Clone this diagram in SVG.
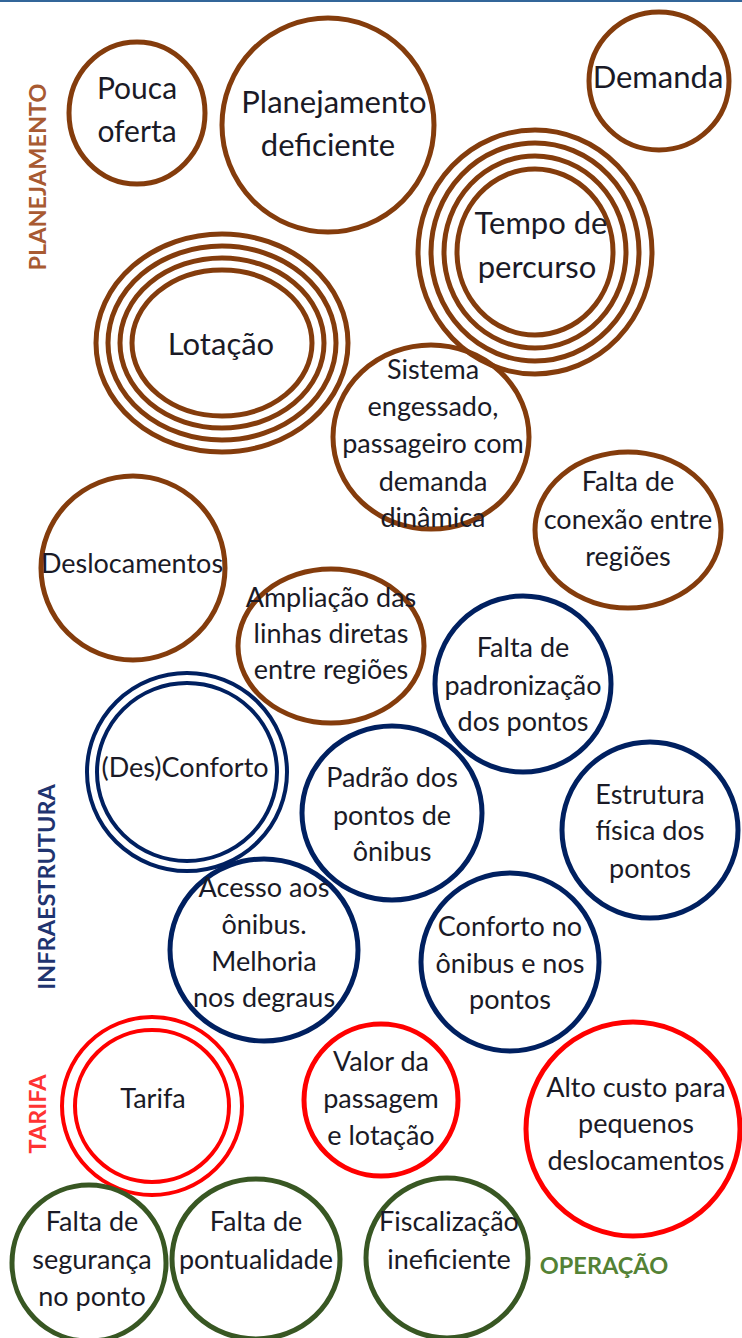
<svg xmlns="http://www.w3.org/2000/svg" width="742" height="1338" viewBox="0 0 742 1338">
<style>
  .b { fill: none; stroke: #843C0C; stroke-width: 5; }
  .n { fill: none; stroke: #002060; stroke-width: 5; }
  .r { fill: none; stroke: #FF0000; stroke-width: 5; }
  .g { fill: none; stroke: #385723; stroke-width: 5; }
  .n4 { fill: none; stroke: #002060; stroke-width: 4; }
  .r4 { fill: none; stroke: #FF0000; stroke-width: 4; }
  text { font-family: Lato, "Liberation Sans", sans-serif; fill: #1a1a26; text-anchor: middle; }
  .t31 { font-size: 31px; }
  .t30 { font-size: 30px; }
  .t27 { font-size: 27px; }
  .lab { font-weight: bold; font-size: 23.5px; }
</style>
<rect x="0" y="0" width="742" height="1338" fill="#ffffff"/>
<rect x="0" y="0" width="742" height="2" fill="#336699"/>

<g id="label-planejamento"><text class="lab" transform="translate(46,177) rotate(-90)" style="fill:#A85A32">PLANEJAMENTO</text></g>
<g id="label-infraestrutura"><text class="lab" transform="translate(55,887) rotate(-90)" style="fill:#1F3470">INFRAESTRUTURA</text></g>
<g id="label-tarifa"><text class="lab" transform="translate(46,1114) rotate(-90)" style="fill:#FF3333">TARIFA</text></g>
<g id="label-operacao"><text class="lab" x="604" y="1274" style="fill:#548235">OPERAÇÃO</text></g>

<g id="pouca-oferta">
  <ellipse class="b" cx="137" cy="113" rx="68" ry="71"/>
  <text class="t30" x="137" y="99">Pouca</text>
  <text class="t30" x="137" y="142">oferta</text>
</g>
<g id="planejamento-deficiente">
  <ellipse class="b" cx="328" cy="125" rx="106" ry="107"/>
  <text class="t31" x="334" y="113">Planejamento</text>
  <text class="t31" x="328" y="156">deficiente</text>
</g>
<g id="demanda">
  <ellipse class="b" cx="659" cy="81" rx="70" ry="69"/>
  <text class="t31" x="658" y="88">Demanda</text>
</g>
<g id="tempo-de-percurso">
  <ellipse class="b" cx="535" cy="252" rx="117" ry="122"/>
  <ellipse class="b" cx="535" cy="252" rx="104" ry="109"/>
  <ellipse class="b" cx="535" cy="252" rx="91" ry="96"/>
  <ellipse class="b" cx="535" cy="252" rx="78" ry="83"/>
  <text class="t31" x="541" y="234">Tempo de</text>
  <text class="t31" x="537" y="278">percurso</text>
</g>
<g id="lotacao">
  <ellipse class="b" cx="222" cy="343" rx="126" ry="109"/>
  <ellipse class="b" cx="222" cy="343" rx="114" ry="97"/>
  <ellipse class="b" cx="222" cy="343" rx="102" ry="85"/>
  <ellipse class="b" cx="222" cy="343" rx="90" ry="73"/>
  <text class="t31" x="221" y="355">Lotação</text>
</g>
<g id="sistema-engessado">
  <ellipse class="b" cx="431" cy="437" rx="98" ry="92"/>
  <text class="t27" x="433" y="379">Sistema</text>
  <text class="t27" x="433" y="416">engessado,</text>
  <text class="t27" x="433" y="453">passageiro com</text>
  <text class="t27" x="433" y="491">demanda</text>
  <text class="t27" x="433" y="527">dinâmica</text>
</g>
<g id="falta-de-conexao">
  <ellipse class="b" cx="628" cy="530" rx="93" ry="78"/>
  <text class="t27" x="628" y="491">Falta de</text>
  <text class="t27" x="628" y="529">conexão entre</text>
  <text class="t27" x="628" y="566">regiões</text>
</g>
<g id="deslocamentos">
  <ellipse class="b" cx="133" cy="568" rx="92" ry="92"/>
  <text class="t27" x="132" y="573">Deslocamentos</text>
</g>
<g id="ampliacao-das-linhas">
  <ellipse class="b" cx="331" cy="646" rx="93" ry="77"/>
  <text class="t27" x="331" y="607">Ampliação das</text>
  <text class="t27" x="331" y="643">linhas diretas</text>
  <text class="t27" x="331" y="679">entre regiões</text>
</g>
<g id="falta-de-padronizacao">
  <ellipse class="n" cx="523" cy="684" rx="88" ry="88"/>
  <text class="t27" x="523" y="657">Falta de</text>
  <text class="t27" x="523" y="695">padronização</text>
  <text class="t27" x="523" y="731">dos pontos</text>
</g>
<g id="des-conforto">
  <ellipse class="n4" cx="187" cy="772" rx="100" ry="99"/>
  <ellipse class="n4" cx="187" cy="772" rx="90" ry="89"/>
  <text class="t27" x="185" y="777">(Des)Conforto</text>
</g>
<g id="padrao-dos-pontos">
  <ellipse class="n" cx="392" cy="813" rx="90" ry="87"/>
  <text class="t27" x="392" y="787">Padrão dos</text>
  <text class="t27" x="392" y="825">pontos de</text>
  <text class="t27" x="392" y="861">ônibus</text>
</g>
<g id="estrutura-fisica">
  <ellipse class="n" cx="650" cy="830" rx="88" ry="88"/>
  <text class="t27" x="650" y="804">Estrutura</text>
  <text class="t27" x="650" y="840">física dos</text>
  <text class="t27" x="650" y="878">pontos</text>
</g>
<g id="acesso-aos-onibus">
  <ellipse class="n" cx="264" cy="950" rx="94" ry="91"/>
  <text class="t27" x="264" y="897">Acesso aos</text>
  <text class="t27" x="264" y="934">ônibus.</text>
  <text class="t27" x="264" y="971">Melhoria</text>
  <text class="t27" x="264" y="1007">nos degraus</text>
</g>
<g id="conforto-no-onibus">
  <ellipse class="n" cx="510" cy="962" rx="89" ry="89"/>
  <text class="t27" x="510" y="936">Conforto no</text>
  <text class="t27" x="510" y="973">ônibus e nos</text>
  <text class="t27" x="510" y="1009">pontos</text>
</g>
<g id="tarifa">
  <ellipse class="r4" cx="152" cy="1106" rx="90" ry="89"/>
  <ellipse class="r4" cx="152" cy="1106" rx="77" ry="76"/>
  <text class="t27" x="153" y="1108">Tarifa</text>
</g>
<g id="valor-da-passagem">
  <ellipse class="r" cx="381" cy="1100" rx="77" ry="76"/>
  <text class="t27" x="381" y="1071">Valor da</text>
  <text class="t27" x="381" y="1108">passagem</text>
  <text class="t27" x="381" y="1145">e lotação</text>
</g>
<g id="alto-custo">
  <ellipse class="r" cx="633" cy="1129" rx="107" ry="107"/>
  <text class="t27" x="636" y="1097">Alto custo para</text>
  <text class="t27" x="636" y="1133">pequenos</text>
  <text class="t27" x="636" y="1170">deslocamentos</text>
</g>
<g id="falta-de-seguranca">
  <ellipse class="g" cx="89" cy="1263" rx="77" ry="78"/>
  <text class="t27" x="92" y="1231">Falta de</text>
  <text class="t27" x="92" y="1269">segurança</text>
  <text class="t27" x="92" y="1306">no ponto</text>
</g>
<g id="falta-de-pontualidade">
  <ellipse class="g" cx="256" cy="1259" rx="84" ry="80"/>
  <text class="t27" x="256" y="1231">Falta de</text>
  <text class="t27" x="256" y="1269">pontualidade</text>
</g>
<g id="fiscalizacao-ineficiente">
  <ellipse class="g" cx="447" cy="1258" rx="81" ry="80"/>
  <text class="t27" x="449" y="1231">Fiscalização</text>
  <text class="t27" x="449" y="1269">ineficiente</text>
</g>
</svg>
